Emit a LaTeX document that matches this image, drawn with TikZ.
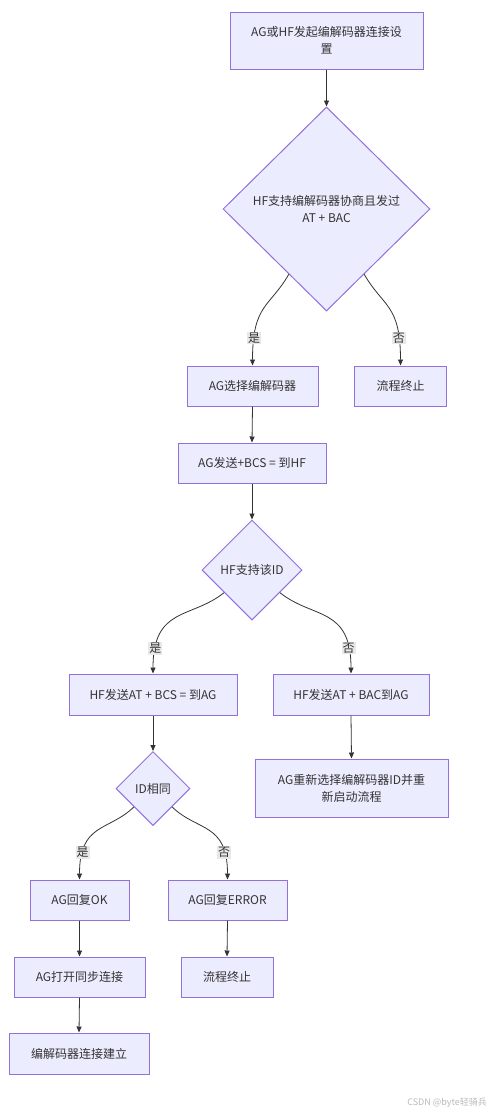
\documentclass[tikz,border=0pt]{standalone}
\usepackage{fontspec}
\setmainfont{Noto Sans CJK SC}
\usepackage{tikz}
\usetikzlibrary{arrows.meta, shapes.geometric}
\usepackage{xcolor}
\definecolor{nodefill}{HTML}{ECECFF}
\definecolor{nodeline}{HTML}{9370DB}
\definecolor{edgeline}{HTML}{333333}
\definecolor{labelfill}{HTML}{E8E8E8}

\begin{document}
\begin{tikzpicture}[
    x=1pt,y=1pt,
    >={Triangle[length=6pt,width=5pt]},
    font=\fontsize{12}{17}\selectfont,
    text=edgeline,
    box/.style={rectangle,fill=nodefill,draw=nodeline,line width=1pt,minimum height=40pt,inner sep=0pt,align=center},
    decision/.style={diamond,aspect=1,fill=nodefill,draw=nodeline,line width=1pt,inner sep=0pt,align=center},
    flow/.style={draw=edgeline,line width=0.8pt,->},
    branch/.style={flow,in looseness=1.6},
    answer/.style={fill=labelfill,inner sep=1pt,text=edgeline}
]
\useasboundingbox (0,0) rectangle (490,-1114);

% Setup and codec negotiation.
\node[box,minimum width=193pt,minimum height=57pt] (Start) at (326.5,-40.5) {AG或HF发起编解码器连接设\\置};
\node[decision,minimum width=207pt,minimum height=204pt] (Q1) at (326.5,-209) {HF支持编解码器协商且发过\\AT + BAC};
\node[box,minimum width=131pt] (Pick) at (252.5,-386) {AG选择编解码器};
\node[box,minimum width=92pt] (Stop1) at (400.5,-386) {流程终止};
\node[box,minimum width=148pt] (SendBCS) at (252,-463) {AG发送+BCS = 到HF};

% Codec ID check on the HF side.
\node[decision,minimum width=100pt,minimum height=100pt] (Q2) at (252,-570) {HF支持该ID};
\node[box,minimum width=168pt,minimum height=41pt] (ReplyBCS) at (153,-694.5) {HF发送AT + BCS = 到AG};
\node[box,minimum width=156pt,minimum height=41pt] (ReplyBAC) at (351,-694.5) {HF发送AT + BAC到AG};
\node[decision,minimum width=74pt,minimum height=74pt] (Q3) at (153,-788.5) {ID相同};
\node[box,minimum width=193pt,minimum height=58pt] (Restart) at (351.5,-788) {AG重新选择编解码器ID并重\\新启动流程};

% Final replies.
\node[box,minimum width=99pt] (ReplyOK) at (79.5,-900) {AG回复OK};
\node[box,minimum width=119pt] (ReplyErr) at (227.5,-900) {AG回复ERROR};
\node[box,minimum width=131pt] (Sync) at (79.5,-977) {AG打开同步连接};
\node[box,minimum width=92pt] (Stop2) at (227,-977) {流程终止};
\node[box,minimum width=140pt,minimum height=41pt] (Done) at (79,-1053.5) {编解码器连接建立};

% Straight connectors.
\foreach \from/\to in {Start/Q1,Pick/SendBCS,SendBCS/Q2,ReplyBCS/Q3,ReplyBAC/Restart,ReplyOK/Sync,Sync/Done,ReplyErr/Stop2}
    \draw[flow] (\from.south) -- (\to.north);

% Branches leave the lower edges of the decisions.
\draw[branch] (Q1.240) to[out=240,in=90] node[answer,pos=0.82] {是} (Pick.north);
\draw[branch] (Q1.300) to[out=300,in=90] node[answer,pos=0.82] {否} (Stop1.north);
\draw[branch] (Q2.219) to[out=219,in=90] node[answer,pos=0.85] {是} (ReplyBCS.north);
\draw[branch] (Q2.321) to[out=321,in=90] node[answer,pos=0.85] {否} (ReplyBAC.north);
\draw[branch] (Q3.224) to[out=224,in=90] node[answer,pos=0.8] {是} (ReplyOK.north);
\draw[branch] (Q3.316) to[out=316,in=90] node[answer,pos=0.8] {否} (ReplyErr.north);

% Watermark.
\node[anchor=east,text=gray!55,font=\fontsize{9}{11}\selectfont,inner sep=0pt] (Mark) at (487,-1103) {CSDN @byte轻骑兵};
\end{tikzpicture}
\end{document}
